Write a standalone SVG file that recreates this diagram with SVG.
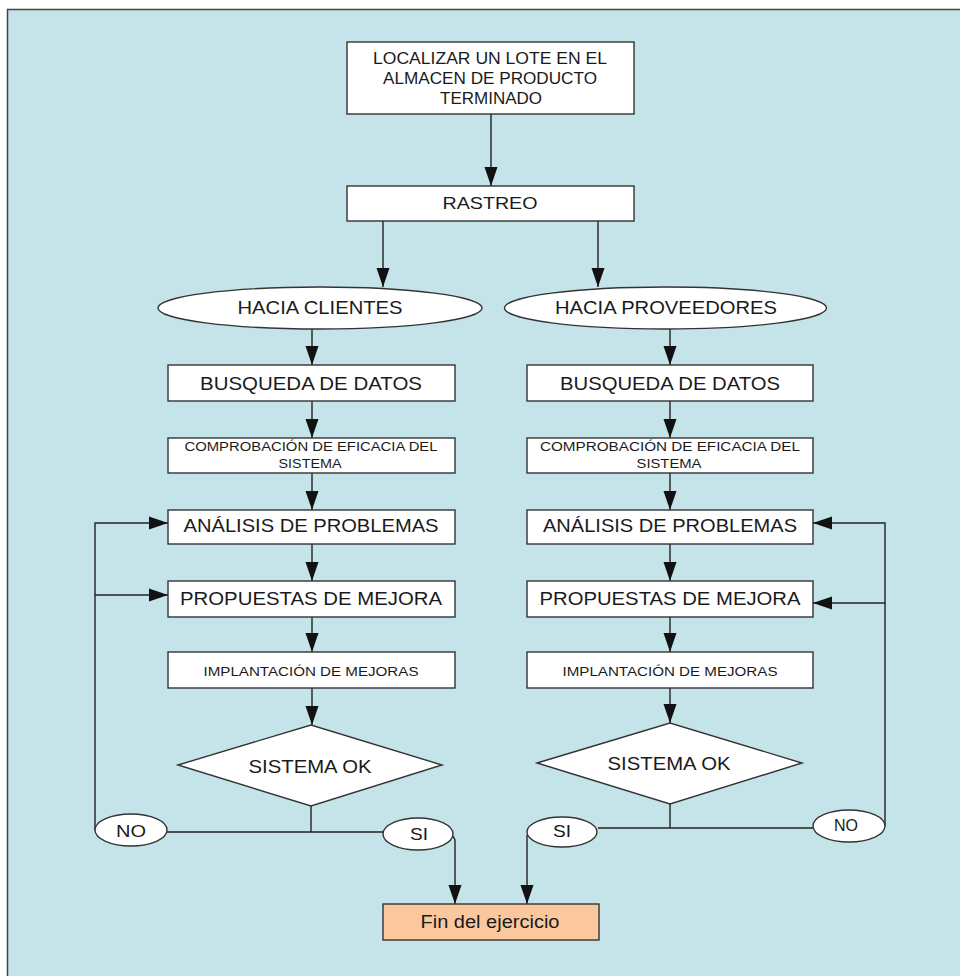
<svg xmlns="http://www.w3.org/2000/svg" width="960" height="976" viewBox="0 0 960 976">
<defs>
<style>
.box{fill:#ffffff;stroke:#333333;stroke-width:1.4}
.fin{fill:#fbc89e;stroke:#333333;stroke-width:1.4}
.t{font-family:"Liberation Sans",Arial,Helvetica,sans-serif;fill:#1a1a1a;text-anchor:middle}
.edge{fill:none;stroke:#222222;stroke-width:1.4}
</style>
<marker id="ahh" markerUnits="userSpaceOnUse" markerWidth="20" markerHeight="14" viewBox="0 0 20 14" refX="19" refY="7" orient="auto">
<path d="M0,0.5 L19,7 L0,13.5 Z" fill="#111111"/>
</marker>
</defs>
<rect x="0" y="0" width="960" height="976" fill="#ffffff"/>
<rect x="7" y="9" width="953" height="967" fill="#c4e4ea"/>
<path d="M7.5,976 V9.5 H960" fill="none" stroke="#444444" stroke-width="1.5"/>

<g id="connectors">
<path class="edge" d="M491,114 V186" marker-end="url(#ahh)"/>
<path class="edge" d="M383,221 V287" marker-end="url(#ahh)"/>
<path class="edge" d="M598,221 V287" marker-end="url(#ahh)"/>
<path class="edge" d="M312,329 V365" marker-end="url(#ahh)"/>
<path class="edge" d="M312,401 V438" marker-end="url(#ahh)"/>
<path class="edge" d="M312,473 V510" marker-end="url(#ahh)"/>
<path class="edge" d="M312,544 V581" marker-end="url(#ahh)"/>
<path class="edge" d="M312,617 V652" marker-end="url(#ahh)"/>
<path class="edge" d="M312,688 V725" marker-end="url(#ahh)"/>
<path class="edge" d="M670,329 V365" marker-end="url(#ahh)"/>
<path class="edge" d="M670,401 V438" marker-end="url(#ahh)"/>
<path class="edge" d="M670,473 V510" marker-end="url(#ahh)"/>
<path class="edge" d="M670,544 V581" marker-end="url(#ahh)"/>
<path class="edge" d="M670,617 V652" marker-end="url(#ahh)"/>
<path class="edge" d="M670,688 V723" marker-end="url(#ahh)"/>
<path class="edge" d="M311,806 V832 M167,832 H383"/>
<path class="edge" d="M95,830 V523 H168" marker-end="url(#ahh)"/>
<path class="edge" d="M95,595 H168" marker-end="url(#ahh)"/>
<path class="edge" d="M453,836 L455,840 V904" marker-end="url(#ahh)"/>
<path class="edge" d="M670,804 V828 M598,828 H813"/>
<path class="edge" d="M885,826 V523 H813" marker-end="url(#ahh)"/>
<path class="edge" d="M885,603 H813" marker-end="url(#ahh)"/>
<path class="edge" d="M527,835 V904" marker-end="url(#ahh)"/>
</g>

<g id="n-localizar">
<rect class="box" x="347" y="42" width="287" height="72"/>
<text class="t" x="490" y="64" font-size="16" textLength="234" lengthAdjust="spacingAndGlyphs">LOCALIZAR UN LOTE EN EL</text>
<text class="t" x="490" y="84" font-size="16" textLength="214" lengthAdjust="spacingAndGlyphs">ALMACEN DE PRODUCTO</text>
<text class="t" x="491" y="104" font-size="16" textLength="102" lengthAdjust="spacingAndGlyphs">TERMINADO</text>
</g>
<g id="n-rastreo">
<rect class="box" x="347" y="186" width="287" height="35"/>
<text class="t" x="490" y="209" font-size="17" textLength="95" lengthAdjust="spacingAndGlyphs">RASTREO</text>
</g>
<g id="n-clientes">
<ellipse class="box" cx="320" cy="308" rx="162" ry="21"/>
<text class="t" x="320" y="314" font-size="18" textLength="165" lengthAdjust="spacingAndGlyphs">HACIA CLIENTES</text>
</g>
<g id="n-proveedores">
<ellipse class="box" cx="665.5" cy="308" rx="161" ry="21"/>
<text class="t" x="666" y="314" font-size="18" textLength="222" lengthAdjust="spacingAndGlyphs">HACIA PROVEEDORES</text>
</g>

<g id="n-busqueda-c">
<rect class="box" x="168" y="365" width="287" height="36"/>
<text class="t" x="311" y="390" font-size="18" textLength="222" lengthAdjust="spacingAndGlyphs">BUSQUEDA DE DATOS</text>
</g>
<g id="n-comprobacion-c">
<rect class="box" x="168" y="438" width="287" height="35"/>
<text class="t" x="311" y="451" font-size="12.5" textLength="253" lengthAdjust="spacingAndGlyphs">COMPROBACIÓN DE EFICACIA DEL</text>
<text class="t" x="310" y="468" font-size="12.5" textLength="63" lengthAdjust="spacingAndGlyphs">SISTEMA</text>
</g>
<g id="n-analisis-c">
<rect class="box" x="168" y="510" width="287" height="34"/>
<text class="t" x="311" y="532" font-size="18" textLength="255" lengthAdjust="spacingAndGlyphs">ANÁLISIS DE PROBLEMAS</text>
</g>
<g id="n-propuestas-c">
<rect class="box" x="168" y="581" width="287" height="36"/>
<text class="t" x="311" y="605" font-size="18" textLength="262" lengthAdjust="spacingAndGlyphs">PROPUESTAS DE MEJORA</text>
</g>
<g id="n-implantacion-c">
<rect class="box" x="168" y="652" width="287" height="36"/>
<text class="t" x="311" y="676" font-size="12.5" textLength="215" lengthAdjust="spacingAndGlyphs">IMPLANTACIÓN DE MEJORAS</text>
</g>
<g id="n-sistema-c">
<polygon class="box" points="178,765 311,725 442,765 311,806"/>
<text class="t" x="310" y="773" font-size="18" textLength="123" lengthAdjust="spacingAndGlyphs">SISTEMA OK</text>
</g>
<g id="n-no-c">
<ellipse class="box" cx="131" cy="830" rx="36" ry="16"/>
<text class="t" x="131" y="837" font-size="17" textLength="30" lengthAdjust="spacingAndGlyphs">NO</text>
</g>
<g id="n-si-c">
<ellipse class="box" cx="418" cy="834" rx="35" ry="16"/>
<text class="t" x="419" y="840" font-size="17" textLength="18" lengthAdjust="spacingAndGlyphs">SI</text>
</g>

<g id="n-busqueda-p">
<rect class="box" x="527" y="365" width="286" height="36"/>
<text class="t" x="670" y="390" font-size="18" textLength="220" lengthAdjust="spacingAndGlyphs">BUSQUEDA DE DATOS</text>
</g>
<g id="n-comprobacion-p">
<rect class="box" x="527" y="438" width="286" height="35"/>
<text class="t" x="670" y="451" font-size="12.5" textLength="260" lengthAdjust="spacingAndGlyphs">COMPROBACIÓN DE EFICACIA DEL</text>
<text class="t" x="669" y="468" font-size="12.5" textLength="65" lengthAdjust="spacingAndGlyphs">SISTEMA</text>
</g>
<g id="n-analisis-p">
<rect class="box" x="527" y="510" width="286" height="34"/>
<text class="t" x="670" y="532" font-size="18" textLength="254" lengthAdjust="spacingAndGlyphs">ANÁLISIS DE PROBLEMAS</text>
</g>
<g id="n-propuestas-p">
<rect class="box" x="527" y="581" width="286" height="36"/>
<text class="t" x="670" y="605" font-size="18" textLength="261" lengthAdjust="spacingAndGlyphs">PROPUESTAS DE MEJORA</text>
</g>
<g id="n-implantacion-p">
<rect class="box" x="527" y="652" width="286" height="36"/>
<text class="t" x="670" y="676" font-size="12.5" textLength="215" lengthAdjust="spacingAndGlyphs">IMPLANTACIÓN DE MEJORAS</text>
</g>
<g id="n-sistema-p">
<polygon class="box" points="537,763 670,723 802,763 670,804"/>
<text class="t" x="669" y="770" font-size="18" textLength="123" lengthAdjust="spacingAndGlyphs">SISTEMA OK</text>
</g>
<g id="n-si-p">
<ellipse class="box" cx="562" cy="832" rx="35" ry="15"/>
<text class="t" x="562" y="837" font-size="17" textLength="18" lengthAdjust="spacingAndGlyphs">SI</text>
</g>
<g id="n-no-p">
<ellipse class="box" cx="849" cy="826" rx="36" ry="16"/>
<text class="t" x="846" y="831" font-size="17" textLength="24" lengthAdjust="spacingAndGlyphs">NO</text>
</g>

<g id="n-fin">
<rect class="fin" x="383" y="904" width="216" height="36"/>
<text class="t" x="490" y="928" font-size="18" textLength="139" lengthAdjust="spacingAndGlyphs">Fin del ejercicio</text>
</g>
</svg>
